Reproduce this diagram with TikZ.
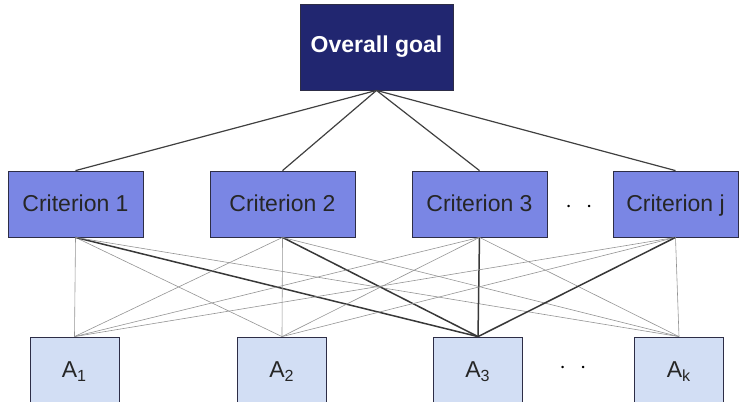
\documentclass[tikz,border=0pt]{standalone}
\usepackage{fontspec}
\setmainfont{Liberation Sans}
\definecolor{goalblue}{RGB}{33,38,112}
\definecolor{critblue}{RGB}{122,134,228}
\definecolor{altblue}{RGB}{210,222,244}
\definecolor{boxline}{RGB}{45,45,70}

\begin{document}
\begin{tikzpicture}[x=0.5pt,y=-0.5pt,
    goalbox/.style={shape=rectangle,draw=boxline,fill=goalblue,text=white,
        font=\fontsize{11.5}{14}\selectfont\bfseries,inner sep=0pt,
        minimum width=76.5pt,minimum height=43pt},
    critbox/.style={shape=rectangle,draw=boxline,fill=critblue,text=black!85,
        font=\fontsize{11.5}{14}\selectfont,inner sep=0pt,minimum height=33pt,
        text height=7.6pt,text depth=0pt},
    altbox/.style={shape=rectangle,draw=boxline,fill=altblue,text=black!85,
        font=\fontsize{11.5}{14}\selectfont,inner sep=0pt,
        minimum width=44.5pt,minimum height=33pt,text height=7.6pt,text depth=0pt},
    upper/.style={draw=black!75,line width=0.6pt},
    thin/.style={draw=black!42,line width=0.3pt},
    heavy/.style={draw=black!78,line width=0.75pt}]
    \useasboundingbox (0,0) rectangle (740,402);
    \clip (0,0) rectangle (740,402);

    \node[goalbox] (goal) at (376.5,47) {Overall goal};

    \node[critbox,minimum width=67.5pt] (c1) at (75.5,204) {Criterion 1};
    \node[critbox,minimum width=72.5pt] (c2) at (282.5,204) {Criterion 2};
    \node[critbox,minimum width=67.5pt] (c3) at (479.5,204) {Criterion 3};
    \node[critbox,minimum width=62.5pt] (cj) at (675.5,204) {Criterion j};
    \node[font=\fontsize{12.5}{14}\selectfont] (cdots) at (579,207) {$\cdot\hspace{7pt}\cdot$};

    \node[altbox] (a1) at (74.5,370) {A\textsubscript{1}};
    \node[altbox] (a2) at (282,370) {A\textsubscript{2}};
    \node[altbox] (a3) at (478,370) {A\textsubscript{3}};
    \node[altbox] (ak) at (679,370) {A\textsubscript{k}};
    \node[font=\fontsize{12.5}{14}\selectfont] (adots) at (573,368) {$\cdot\hspace{7pt}\cdot$};

    %archi dall'obiettivo
    \draw[upper] (goal.south) edge (c1.north);
    \draw[upper] (goal.south) edge (c2.north);
    \draw[upper] (goal.south) edge (c3.north);
    \draw[upper] (goal.south) edge (cj.north);

    %archi verso le alternative
    \draw[thin] (c1.south) edge (a1.north);
    \draw[thin] (c1.south) edge (a2.north);
    \draw[heavy] (c1.south) edge (a3.north);
    \draw[thin] (c1.south) edge (ak.north);

    \draw[thin] (c2.south) edge (a1.north);
    \draw[thin] (c2.south) edge (a2.north);
    \draw[heavy] (c2.south) edge (a3.north);
    \draw[thin] (c2.south) edge (ak.north);

    \draw[thin] (c3.south) edge (a1.north);
    \draw[thin] (c3.south) edge (a2.north);
    \draw[heavy] (c3.south) edge (a3.north);
    \draw[thin] (c3.south) edge (ak.north);

    \draw[thin] (cj.south) edge (a1.north);
    \draw[thin] (cj.south) edge (a2.north);
    \draw[heavy] (cj.south) edge (a3.north);
    \draw[thin] (cj.south) edge (ak.north);
\end{tikzpicture}
\end{document}
